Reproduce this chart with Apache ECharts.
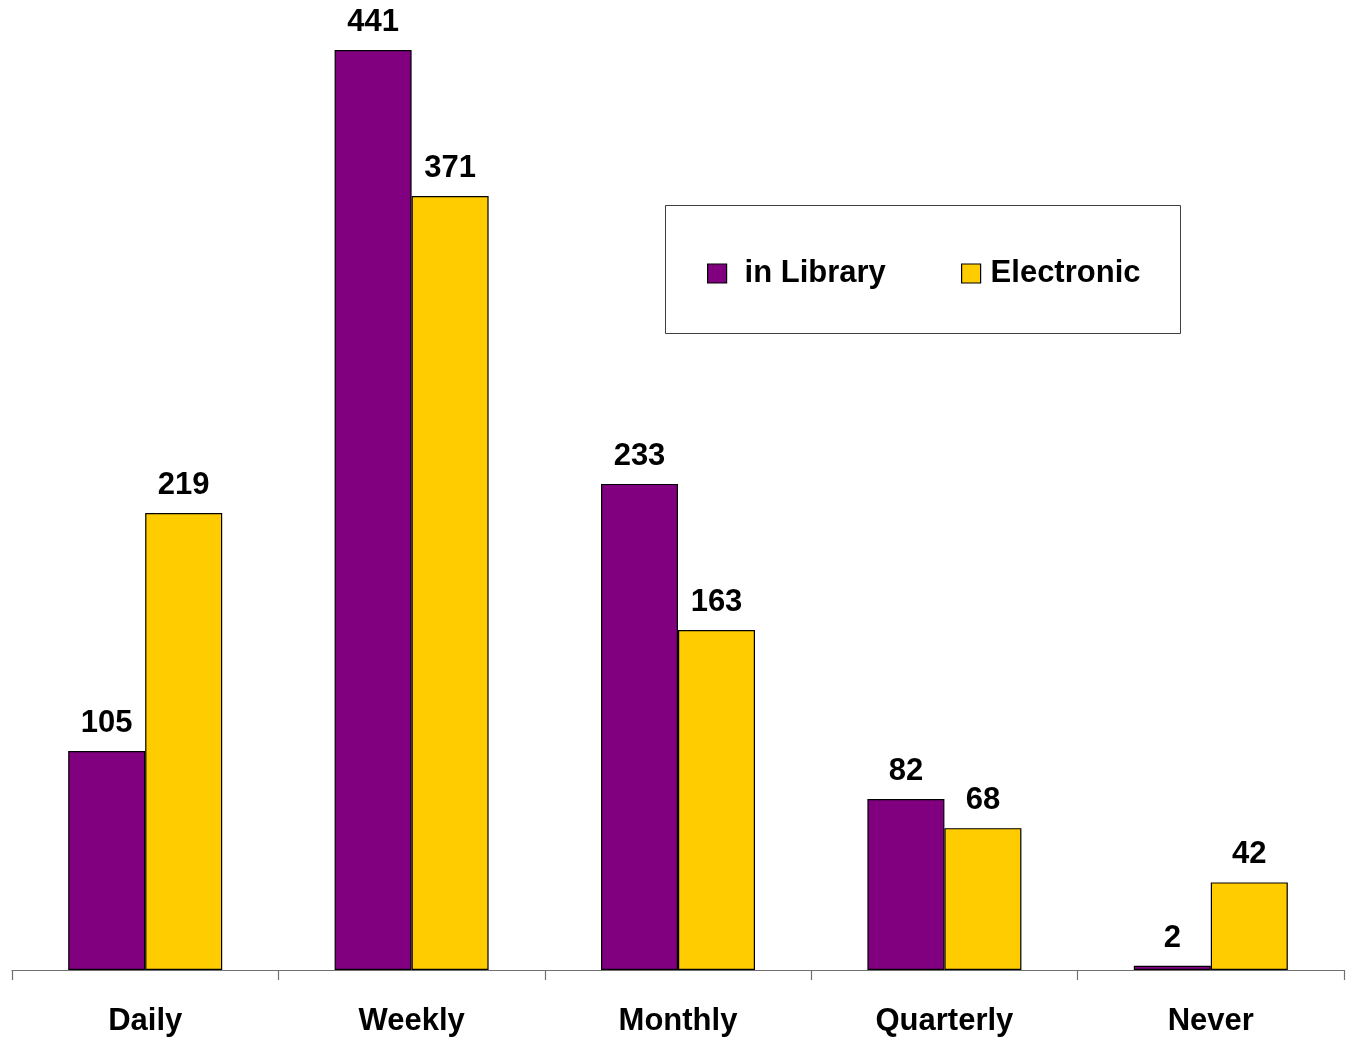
<!DOCTYPE html>
<html>
<head>
<meta charset="utf-8">
<script src="https://cdn.jsdelivr.net/npm/echarts@6/dist/echarts.min.js"></script>
<style>
html,body{margin:0;padding:0;background:#fff;}
#chart{width:1347px;height:1037px;}
</style>
</head>
<body>
<div id="chart"></div>
<script>
const categories = ['Daily', 'Weekly', 'Monthly', 'Quarterly', 'Never'];
const inLibrary = [105, 441, 233, 82, 2];
const electronic = [219, 371, 163, 68, 42];
const seriesNames = ['in Library', 'Electronic'];

const FONT = '"Liberation Sans", Arial, sans-serif';
const chart = echarts.init(document.getElementById('chart'));
const labelStyle = {
  show: true, position: 'top', distance: 12,
  fontFamily: FONT, fontWeight: 'bold', fontSize: 31, color: '#000'
};
chart.setOption({
  backgroundColor: '#fff',
  animation: false,
  grid: { left: 12, right: 3, top: 31.2, bottom: 67 },
  graphic: [{
    type: 'rect', left: 665, top: 205, z: 0,
    shape: { width: 515, height: 128 },
    style: { fill: '#fff', stroke: '#404040', lineWidth: 1 }
  }],
  legend: [{
    data: [seriesNames[0]], left: 707, top: 258, padding: 0,
    itemWidth: 19, itemHeight: 19, itemGap: 0,
    icon: 'rect',
    itemStyle: { borderColor: '#000', borderWidth: 1.2 },
    formatter: '{a|{name}}',
    textStyle: { rich: { a: { fontFamily: FONT, fontWeight: 'bold', fontSize: 31, color: '#000', padding: [0, 0, 0, 13] } } }
  }, {
    data: [seriesNames[1]], left: 961, top: 258, padding: 0,
    itemWidth: 19, itemHeight: 19, itemGap: 0,
    icon: 'rect',
    itemStyle: { borderColor: '#000', borderWidth: 1.2 },
    formatter: '{a|{name}}',
    textStyle: { rich: { a: { fontFamily: FONT, fontWeight: 'bold', fontSize: 31, color: '#000', padding: [0, 0, 0, 5] } } }
  }],
  xAxis: {
    type: 'category', data: categories,
    axisLine: { show: true, lineStyle: { color: '#707070', width: 1.2 } },
    axisTick: { show: true, length: 10, lineStyle: { color: '#707070', width: 1.2 } },
    axisLabel: { margin: 36, fontFamily: FONT, fontWeight: 'bold', fontSize: 31, color: '#000' }
  },
  yAxis: {
    type: 'value', min: 0, max: 450, show: false,
    splitLine: { show: false }
  },
  series: [{
    name: seriesNames[0], type: 'bar', data: inLibrary,
    barWidth: 77, barGap: '0%',
    itemStyle: { color: '#800080', borderColor: '#000', borderWidth: 1.2 },
    label: labelStyle
  }, {
    name: seriesNames[1], type: 'bar', data: electronic,
    barWidth: 77, barGap: '0%',
    itemStyle: { color: '#FFCC00', borderColor: '#000', borderWidth: 1.2 },
    label: labelStyle
  }]
});
</script>
</body>
</html>
